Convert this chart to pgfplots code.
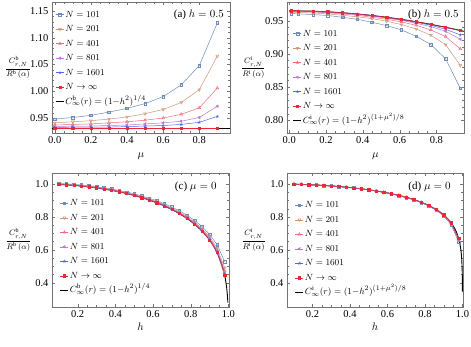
\documentclass[border=0pt]{standalone}
\usepackage{fontspec}
\setmainfont{Liberation Serif}
\usepackage{pgfplots}
\usepackage{pgfplotstable}
\pgfplotsset{compat=1.18}

\definecolor{c101}{RGB}{110,140,185}
\definecolor{c201}{RGB}{205,150,120}
\definecolor{c401}{RGB}{245,105,125}
\definecolor{c801}{RGB}{190,120,210}
\definecolor{c1601}{RGB}{80,100,240}
\definecolor{cinf}{RGB}{235,40,50}

% (a) h = 0.5, boundary
\pgfplotstableread{
mu  n101  n201  n401  n801  n1601 ninf
0.0 0.948 0.941 0.937 0.934 0.932 0.9306
0.1 0.951 0.943 0.938 0.935 0.933 0.9306
0.2 0.955 0.945 0.939 0.935 0.933 0.9306
0.3 0.961 0.948 0.941 0.936 0.933 0.9306
0.4 0.968 0.952 0.943 0.937 0.934 0.9306
0.5 0.977 0.958 0.946 0.939 0.935 0.9306
0.6 0.990 0.966 0.950 0.941 0.936 0.9306
0.7 1.012 0.979 0.957 0.944 0.938 0.9306
0.8 1.048 1.003 0.969 0.951 0.942 0.9306
0.9 1.128 1.066 1.006 0.972 0.953 0.9306
}\tabA

% (b) h = 0.5, interface
\pgfplotstableread{
mu   n101   n201   n401   n801   n1601  ninf
0.01 0.9605 0.9625 0.9637 0.9642 0.9645 0.9647
0.05 0.9602 0.9623 0.9635 0.9640 0.9643 0.9646
0.13 0.9590 0.9615 0.9630 0.9636 0.9638 0.9641
0.21 0.9577 0.9600 0.9618 0.9625 0.9629 0.9632
0.29 0.9550 0.9580 0.9600 0.9610 0.9615 0.9618
0.37 0.9520 0.9557 0.9580 0.9592 0.9597 0.9600
0.45 0.9475 0.9530 0.9550 0.9568 0.9574 0.9577
0.53 0.9425 0.9490 0.9520 0.9538 0.9546 0.9550
0.61 0.9360 0.9440 0.9480 0.9503 0.9513 0.9519
0.69 0.9265 0.9375 0.9430 0.9460 0.9475 0.9483
0.77 0.9140 0.9280 0.9360 0.9410 0.9430 0.9443
0.85 0.8925 0.9140 0.9260 0.9340 0.9370 0.9399
0.93 0.8480 0.8825 0.9075 0.9220 0.9285 0.9351
}\tabB

% (c) mu = 0, boundary
\pgfplotstableread{
h    n101  n201  n401  n801  n1601 ninf
0.10 1.003 1.000 0.999 0.998 0.997 0.997
0.14 1.001 0.998 0.997 0.996 0.995 0.995
0.18 0.998 0.995 0.994 0.993 0.992 0.992
0.22 0.994 0.991 0.990 0.989 0.988 0.988
0.26 0.990 0.987 0.985 0.984 0.984 0.983
0.30 0.984 0.981 0.979 0.978 0.978 0.977
0.34 0.977 0.974 0.972 0.971 0.971 0.970
0.38 0.970 0.966 0.964 0.963 0.963 0.962
0.42 0.961 0.957 0.955 0.954 0.954 0.953
0.46 0.951 0.947 0.945 0.943 0.943 0.942
0.50 0.941 0.936 0.934 0.933 0.932 0.931
0.54 0.927 0.923 0.920 0.919 0.918 0.917
0.58 0.914 0.909 0.906 0.905 0.904 0.903
0.62 0.898 0.893 0.890 0.888 0.887 0.886
0.66 0.880 0.874 0.871 0.869 0.868 0.867
0.70 0.860 0.853 0.850 0.847 0.846 0.845
0.74 0.837 0.829 0.825 0.823 0.821 0.820
0.78 0.810 0.801 0.797 0.794 0.793 0.791
0.82 0.779 0.769 0.764 0.761 0.759 0.757
0.86 0.741 0.729 0.722 0.718 0.716 0.714
0.90 0.694 0.679 0.670 0.665 0.663 0.660
0.94 0.631 0.610 0.598 0.592 0.588 0.584
0.98 0.528 0.491 0.471 0.459 0.453 0.446
}\tabC

% (d) mu = 0, interface
\pgfplotstableread{
h    n101  n201  n401  n801  n1601 ninf
0.10 0.999 0.999 0.999 0.999 0.999 0.999
0.14 0.998 0.998 0.998 0.998 0.998 0.998
0.18 0.996 0.996 0.996 0.996 0.996 0.996
0.22 0.994 0.994 0.994 0.994 0.994 0.994
0.26 0.991 0.991 0.991 0.991 0.991 0.991
0.30 0.988 0.988 0.988 0.988 0.988 0.988
0.34 0.985 0.985 0.985 0.985 0.985 0.985
0.38 0.981 0.981 0.981 0.981 0.981 0.981
0.42 0.976 0.976 0.976 0.976 0.976 0.976
0.46 0.970 0.971 0.971 0.971 0.971 0.971
0.50 0.964 0.965 0.965 0.965 0.965 0.965
0.54 0.957 0.958 0.958 0.958 0.958 0.958
0.58 0.949 0.950 0.950 0.950 0.950 0.950
0.62 0.940 0.941 0.941 0.941 0.941 0.941
0.66 0.929 0.930 0.931 0.931 0.931 0.931
0.70 0.917 0.918 0.919 0.919 0.919 0.919
0.74 0.903 0.905 0.905 0.906 0.906 0.906
0.78 0.886 0.888 0.888 0.889 0.889 0.889
0.82 0.866 0.868 0.869 0.870 0.870 0.870
0.86 0.840 0.843 0.844 0.845 0.845 0.845
0.90 0.805 0.809 0.811 0.812 0.813 0.813
0.94 0.752 0.758 0.761 0.763 0.764 0.764
0.98 0.646 0.657 0.662 0.665 0.667 0.668
}\tabD

\pgfplotsset{
  panel/.style={
    scale only axis,
    anchor=south west,
    axis line style={black!55},
    tick style={black!55},
    tick align=inside,
    major tick length=3pt,
    minor tick length=1.6pt,
    minor x tick num=3,
    every tick label/.append style={font=\fontsize{10.5}{12}\selectfont},
    /pgf/number format/assume math mode=true,
    xticklabel style={/pgf/number format/.cd,fixed,fixed zerofill,precision=1},
    ylabel style={rotate=-90, at={(axis description cs:-0.19,0.5)}, anchor=center,
      font=\fontsize{8}{9}\selectfont},
    xlabel style={anchor=center, font=\fontsize{11}{12}\selectfont},
    legend style={draw=none, fill=none, anchor=north west, inner sep=0pt,
      outer sep=0pt, row sep=3.5pt, font=\fontsize{9.5}{10}\selectfont,
      nodes={inner sep=1pt, text height=7pt, text depth=2pt}},
    legend cell align=left,
    legend image code/.code={\draw[mark repeat=2,mark phase=2]
      plot coordinates {(0pt,0pt) (4pt,0pt) (8pt,0pt)};},
    every axis plot/.append style={line width=0.5pt},
  },
  s101/.style={c101, mark=square, mark size=1.3pt, mark options={solid}},
  s201/.style={c201, mark=triangle, mark size=1.6pt, mark options={solid, rotate=180}},
  s401/.style={c401, mark=triangle, mark size=1.6pt, mark options={solid}},
  s801/.style={c801, mark=triangle*, mark size=1.5pt, mark options={solid, rotate=90}},
  s1601/.style={c1601, mark=star, mark size=1.6pt, mark options={solid}},
  sinf/.style={cinf, mark=square*, mark size=1.1pt, mark options={solid}},
  sexact/.style={black, line width=0.9pt},
}

\begin{document}
\begin{tikzpicture}
\path[use as bounding box] (0,0) rectangle (471pt,347pt);

% ---------- (a)
\begin{axis}[panel, at={(52pt,214pt)}, width=178pt, height=131pt,
  xmin=-0.015, xmax=0.97, ymin=0.922, ymax=1.167,
  xtick={0,0.2,0.4,0.6,0.8},
  ytick={0.95,1.00,1.05,1.10,1.15}, minor y tick num=4,
  yticklabel style={/pgf/number format/.cd,fixed,fixed zerofill,precision=2},
  xlabel={$\mu$}, xlabel style={at={(axis description cs:0.5,-0.18)}},
  ylabel={$\displaystyle\frac{C^{\mathrm{b}}_{r,N}}{R^{\mathrm{b}}\,(\alpha)}$},
  legend style={at={(axis description cs:0.02,0.945)}},
  legend entries={$N=101$, $N=201$, $N=401$, $N=801$, $N=1601$,
    $N\rightarrow\infty$, $C^{\mathrm{b}}_{\infty}(r)=(1{-}h^2)^{1/4}$},
]
\addplot[sexact, forget plot] coordinates {(-0.05,0.9306) (1.0,0.9306)};
\addplot[s101]  table[x=mu,y=n101]  {\tabA};
\addplot[s201]  table[x=mu,y=n201]  {\tabA};
\addplot[s401]  table[x=mu,y=n401]  {\tabA};
\addplot[s801]  table[x=mu,y=n801]  {\tabA};
\addplot[s1601] table[x=mu,y=n1601] {\tabA};
\addplot[sinf]  table[x=mu,y=ninf]  {\tabA};
\addlegendimage{sexact}
\node[anchor=east, font=\fontsize{11}{12}\selectfont] at (rel axis cs:0.985,0.9) {(a) $h=0.5$};
\end{axis}

% ---------- (b)
\begin{axis}[panel, at={(287pt,214pt)}, width=177pt, height=131pt,
  xmin=-0.012, xmax=0.95, ymin=0.781, ymax=0.978,
  xtick={0,0.2,0.4,0.6,0.8},
  ytick={0.80,0.85,0.90,0.95}, minor y tick num=4,
  yticklabel style={/pgf/number format/.cd,fixed,fixed zerofill,precision=2},
  xlabel={$\mu$}, xlabel style={at={(axis description cs:0.5,-0.18)}},
  ylabel={$\displaystyle\frac{C^{\mathrm{i}}_{r,N}}{R^{\mathrm{i}}\,(\alpha)}$},
  legend style={at={(axis description cs:0.034,0.80)}},
  legend entries={$N=101$, $N=201$, $N=401$, $N=801$, $N=1601$,
    $N\rightarrow\infty$, $C^{\mathrm{i}}_{\infty}(r)=(1{-}h^2)^{(1+\mu^2)/8}$},
]
\addplot[sexact, smooth, forget plot] coordinates {
  (0,0.96468) (0.1,0.96433) (0.2,0.96329) (0.3,0.96156) (0.4,0.95915)
  (0.5,0.95605) (0.6,0.95227) (0.7,0.94783) (0.8,0.94273) (0.9,0.93698) (0.95,0.93387)};
\addplot[s101]  table[x=mu,y=n101]  {\tabB};
\addplot[s201]  table[x=mu,y=n201]  {\tabB};
\addplot[s401]  table[x=mu,y=n401]  {\tabB};
\addplot[s801]  table[x=mu,y=n801]  {\tabB};
\addplot[s1601] table[x=mu,y=n1601] {\tabB};
\addplot[sinf]  table[x=mu,y=ninf]  {\tabB};
\addlegendimage{sexact}
\node[anchor=east, font=\fontsize{11}{12}\selectfont] at (rel axis cs:0.99,0.9) {(b) $h=0.5$};
\end{axis}

% ---------- (c)
\begin{axis}[panel, at={(52pt,40pt)}, width=177pt, height=134pt,
  xmin=0.064, xmax=1.003, ymin=0.252, ymax=1.067,
  xtick={0.2,0.4,0.6,0.8,1.0},
  ytick={0.4,0.6,0.8,1.0}, minor y tick num=3,
  yticklabel style={/pgf/number format/.cd,fixed,fixed zerofill,precision=1},
  xlabel={$h$}, xlabel style={at={(axis description cs:0.5,-0.15)}},
  ylabel={$\displaystyle\frac{C^{\mathrm{b}}_{r,N}}{R^{\mathrm{b}}\,(\alpha)}$},
  legend style={at={(axis description cs:0.045,0.815)}},
  legend entries={$N=101$, $N=201$, $N=401$, $N=801$, $N=1601$,
    $N\rightarrow\infty$, $C^{\mathrm{b}}_{\infty}(r)=(1{-}h^2)^{1/4}$},
]
\addplot[sexact, forget plot] coordinates {
  (0.10,0.9975) (0.14,0.9951) (0.18,0.9918) (0.22,0.9877) (0.26,0.9827)
  (0.30,0.9767) (0.34,0.9698) (0.38,0.9618) (0.42,0.9526) (0.46,0.9423)
  (0.50,0.9306) (0.54,0.9174) (0.58,0.9026) (0.62,0.8858) (0.66,0.8668)
  (0.70,0.8451) (0.74,0.8201) (0.78,0.7911) (0.82,0.7565) (0.86,0.7143)
  (0.88,0.6892) (0.90,0.6602) (0.92,0.6260) (0.94,0.5841) (0.96,0.5292)
  (0.97,0.4931) (0.98,0.4461) (0.985,0.4154) (0.99,0.3756) (0.993,0.3437)
  (0.995,0.3160) (0.997,0.2782)};
\addplot[s101]  table[x=h,y=n101]  {\tabC};
\addplot[s201]  table[x=h,y=n201]  {\tabC};
\addplot[s401]  table[x=h,y=n401]  {\tabC};
\addplot[s801]  table[x=h,y=n801]  {\tabC};
\addplot[s1601] table[x=h,y=n1601] {\tabC};
\addplot[sinf]  table[x=h,y=ninf]  {\tabC};
\addlegendimage{sexact}
\node[anchor=east, font=\fontsize{11}{12}\selectfont] at (rel axis cs:0.95,0.895) {(c) $\mu=0$};
\end{axis}

% ---------- (d)
\begin{axis}[panel, at={(287pt,40pt)}, width=176pt, height=134pt,
  xmin=0.064, xmax=1.003, ymin=0.252, ymax=1.067,
  xtick={0.2,0.4,0.6,0.8,1.0},
  ytick={0.4,0.6,0.8,1.0}, minor y tick num=3,
  yticklabel style={/pgf/number format/.cd,fixed,fixed zerofill,precision=1},
  xlabel={$h$}, xlabel style={at={(axis description cs:0.5,-0.15)}},
  ylabel={$\displaystyle\frac{C^{\mathrm{i}}_{r,N}}{R^{\mathrm{i}}\,(\alpha)}$},
  legend style={at={(axis description cs:0.045,0.80)}},
  legend entries={$N=101$, $N=201$, $N=401$, $N=801$, $N=1601$,
    $N\rightarrow\infty$, $C^{\mathrm{i}}_{\infty}(r)=(1{-}h^2)^{(1+\mu^2)/8}$},
]
\addplot[sexact, forget plot] coordinates {
  (0.10,0.9987) (0.14,0.9975) (0.18,0.9959) (0.22,0.9938) (0.26,0.9913)
  (0.30,0.9883) (0.34,0.9848) (0.38,0.9807) (0.42,0.9760) (0.46,0.9707)
  (0.50,0.9647) (0.54,0.9578) (0.58,0.9500) (0.62,0.9412) (0.66,0.9310)
  (0.70,0.9193) (0.74,0.9056) (0.78,0.8894) (0.82,0.8698) (0.86,0.8452)
  (0.88,0.8302) (0.90,0.8125) (0.92,0.7912) (0.94,0.7643) (0.96,0.7274)
  (0.97,0.7022) (0.98,0.6679) (0.985,0.6445) (0.99,0.6128) (0.993,0.5862)
  (0.995,0.5622) (0.997,0.5274) (0.999,0.4599) (0.9995,0.4217) (0.9999,0.3448)};
\addplot[s101]  table[x=h,y=n101]  {\tabD};
\addplot[s201]  table[x=h,y=n201]  {\tabD};
\addplot[s401]  table[x=h,y=n401]  {\tabD};
\addplot[s801]  table[x=h,y=n801]  {\tabD};
\addplot[s1601] table[x=h,y=n1601] {\tabD};
\addplot[sinf]  table[x=h,y=ninf]  {\tabD};
\addlegendimage{sexact}
\node[anchor=east, font=\fontsize{11}{12}\selectfont] at (rel axis cs:0.95,0.895) {(d) $\mu=0$};
\end{axis}
\end{tikzpicture}
\end{document}
